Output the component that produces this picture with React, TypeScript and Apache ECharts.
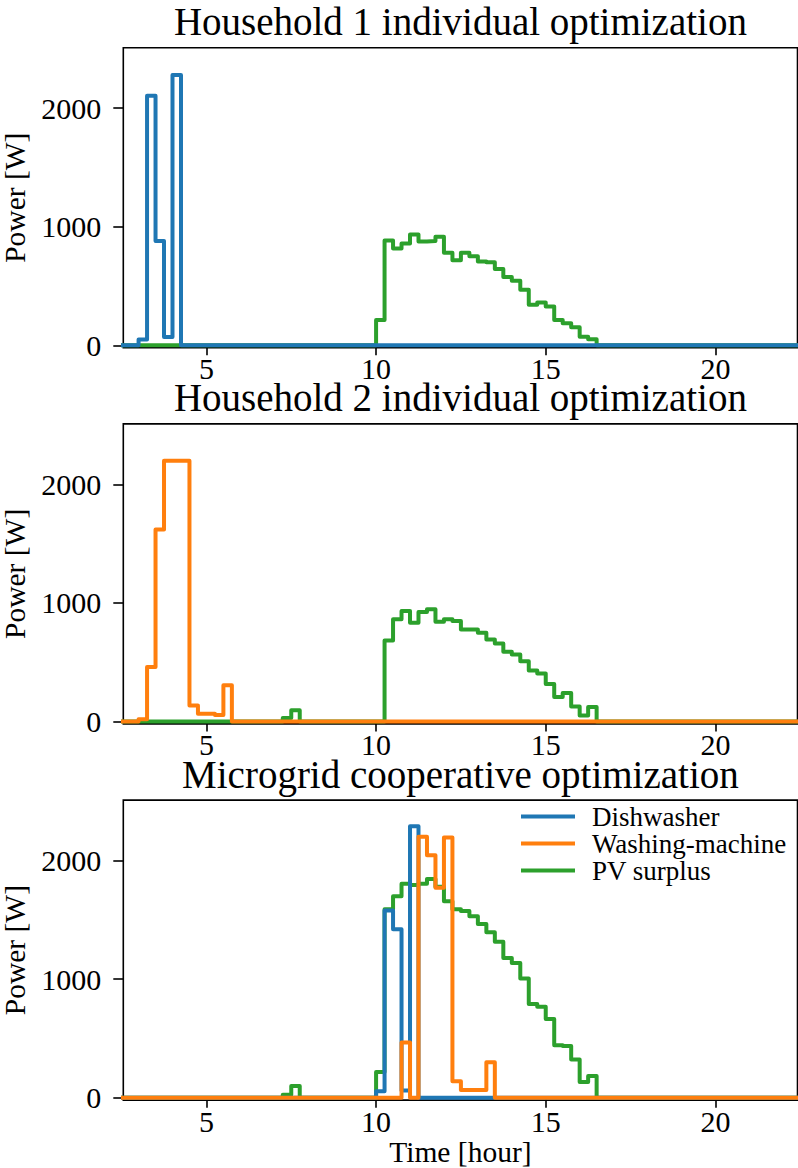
import React, { useEffect, useRef } from "react";
import * as echarts from "echarts";

// ---- data (15-minute steps, values in W) ----
const STEP_H = 0.25;
const xTicks = [5, 10, 15, 20];
const yTicks = [0, 1000, 2000];
const seriesNames = ["Dishwasher", "Washing-machine", "PV surplus"];
const titles = [
  "Household 1 individual optimization",
  "Household 2 individual optimization",
  "Microgrid cooperative optimization",
];

// Household 1
const h1DishStart = 3.0;
const h1Dish = [50, 2105, 880, 70, 2280];
const h1PvStart = 10.0;
const h1Pv = [214, 884, 816, 858, 935, 875, 880, 915, 780, 717, 780, 751, 708, 700, 644, 576, 545, 469, 342, 361, 327, 214, 186, 153, 73, 51];

// Household 2
const h2WashStart = 3.0;
const h2Wash = [20, 460, 1620, 2200, 2200, 2200, 135, 65, 65, 55, 305];
const h2PvBumpStart = 7.25;
const h2PvBump = [30, 95];
const h2PvStart = 10.25;
const h2Pv = [684, 862, 932, 834, 924, 947, 842, 862, 847, 777, 777, 749, 692, 658, 588, 565, 508, 430, 404, 317, 207, 241, 127, 51, 122];

// Microgrid cooperative
const coopDishStart = 10.0;
const coopDish = [55, 1580, 1420, 60, 2290];
const coopWashStart = 10.75;
const coopWash = [465, 0, 2200, 2045, 1770, 2195, 140, 65, 65, 65, 300];
const coopPvBumpStart = 7.25;
const coopPvBump = [25, 98];
const coopPvStart = 10.0;
const coopPv = [217, 1590, 1700, 1805, 1795, 1805, 1845, 1780, 1658, 1590, 1575, 1531, 1465, 1395, 1315, 1178, 1136, 1005, 791, 768, 664, 443, 437, 322, 132, 183];

// ---- layout / style ----
const X_MIN = 2.55;
const X_MAX = 22.42;
const Y_MIN = -20;
const Y_MAX = 2510;
const COLORS = ["#1f77b4", "#ff7f0e", "#2ca02c"];
const FONT = "Liberation Serif";
const GRID_LEFT = 123.3;
const GRID_WIDTH = 674.2;
const GRID_TOPS = [47.7, 423.9, 800.1];
const GRID_HEIGHT = 300;

type Seg = { start: number; values: number[] };

function buildSteps(segs: Seg[]): number[][] {
  const pts: number[][] = [[X_MIN - 1, 0]];
  segs.forEach((s) => {
    s.values.forEach((v, i) => pts.push([s.start + i * STEP_H, v]));
    pts.push([s.start + s.values.length * STEP_H, 0]);
  });
  pts.push([X_MAX + 1, 0]);
  return pts;
}

export default function App() {
  const ref = useRef<HTMLDivElement>(null);
  useEffect(() => {
    if (!ref.current) return;
    const chart = echarts.init(ref.current, null, { renderer: "svg" });

    const panels = [
      { pv: [{ start: h1PvStart, values: h1Pv }], dish: [{ start: h1DishStart, values: h1Dish }], wash: null as Seg[] | null },
      { pv: [{ start: h2PvBumpStart, values: h2PvBump }, { start: h2PvStart, values: h2Pv }], dish: null as Seg[] | null, wash: [{ start: h2WashStart, values: h2Wash }] },
      { pv: [{ start: coopPvBumpStart, values: coopPvBump }, { start: coopPvStart, values: coopPv }], dish: [{ start: coopDishStart, values: coopDish }], wash: [{ start: coopWashStart, values: coopWash }] },
    ];

    const grids = GRID_TOPS.map((t) => ({
      left: GRID_LEFT,
      top: t,
      width: GRID_WIDTH,
      height: GRID_HEIGHT,
      show: true,
      borderColor: "#000",
      borderWidth: 1.6,
      backgroundColor: "transparent",
      containLabel: false,
      outerBoundsMode: "none",
    }));

    const xAxes = GRID_TOPS.map((_, i) => ({
      type: "value",
      gridIndex: i,
      min: X_MIN,
      max: X_MAX,
      axisLine: { show: false },
      splitLine: { show: false },
      axisTick: { show: true, inside: false, length: 10, customValues: xTicks, lineStyle: { color: "#000", width: 1.6 } },
      axisLabel: { show: true, customValues: xTicks, margin: 10, color: "#000", fontFamily: FONT, fontSize: 30, lineHeight: 22, formatter: (v: number) => String(v) },
      name: i === 2 ? "Time [hour]" : "",
      nameLocation: "middle",
      nameGap: 26,
      nameTextStyle: { color: "#000", fontFamily: FONT, fontSize: 29.5, lineHeight: 24, verticalAlign: "top" },
    }));

    const yAxes = GRID_TOPS.map((_, i) => ({
      type: "value",
      gridIndex: i,
      min: Y_MIN,
      max: Y_MAX,
      axisLine: { show: false },
      splitLine: { show: false },
      axisTick: { show: true, inside: false, length: 10, customValues: yTicks, lineStyle: { color: "#000", width: 1.6 } },
      axisLabel: { show: true, customValues: yTicks, margin: 22, color: "#000", fontFamily: FONT, fontSize: 30, lineHeight: 22, formatter: (v: number) => String(v) },
      name: "Power [W]",
      nameLocation: "middle",
      nameRotate: 90,
      nameGap: 60,
      nameTextStyle: { color: "#000", fontFamily: FONT, fontSize: 29.5 },
    }));

    const series: any[] = [];
    panels.forEach((p, i) => {
      const mk = (name: string, color: string, segs: Seg[]) => ({
        type: "line",
        name,
        xAxisIndex: i,
        yAxisIndex: i,
        step: "end",
        data: buildSteps(segs),
        showSymbol: false,
        symbol: "none",
        clip: true,
        lineStyle: { color, width: 4, join: "round" },
        itemStyle: { color },
      });
      series.push(mk(seriesNames[2], COLORS[2], p.pv));
      if (p.dish) series.push(mk(seriesNames[0], COLORS[0], p.dish));
      if (p.wash) series.push(mk(seriesNames[1], COLORS[1], p.wash));
    });

    const option: any = {
      animation: false,
      backgroundColor: "#fff",
      grid: grids,
      xAxis: xAxes,
      yAxis: yAxes,
      series,
      legend: {
        data: seriesNames,
        orient: "vertical",
        left: 521,
        top: 803,
        icon: "rect",
        itemWidth: 54,
        itemHeight: 4,
        itemGap: 0,
        padding: 0,
        selectedMode: false,
        textStyle: { color: "#000", fontFamily: FONT, fontSize: 27, lineHeight: 26.5, padding: [0, 0, 0, 12] },
      },
      graphic: titles.map((t, i) => ({
        type: "text",
        x: GRID_LEFT + GRID_WIDTH / 2,
        y: GRID_TOPS[i] - 26,
        style: { text: t, fill: "#000", font: `39px "${FONT}"`, lineHeight: 28, textAlign: "center", textVerticalAlign: "middle" },
      })),
    };
    chart.setOption(option);
    return () => chart.dispose();
  }, []);
  return <div ref={ref} style={{ position: "fixed", left: 0, top: 0, width: 798, height: 1168, background: "#fff" }} />;
}
